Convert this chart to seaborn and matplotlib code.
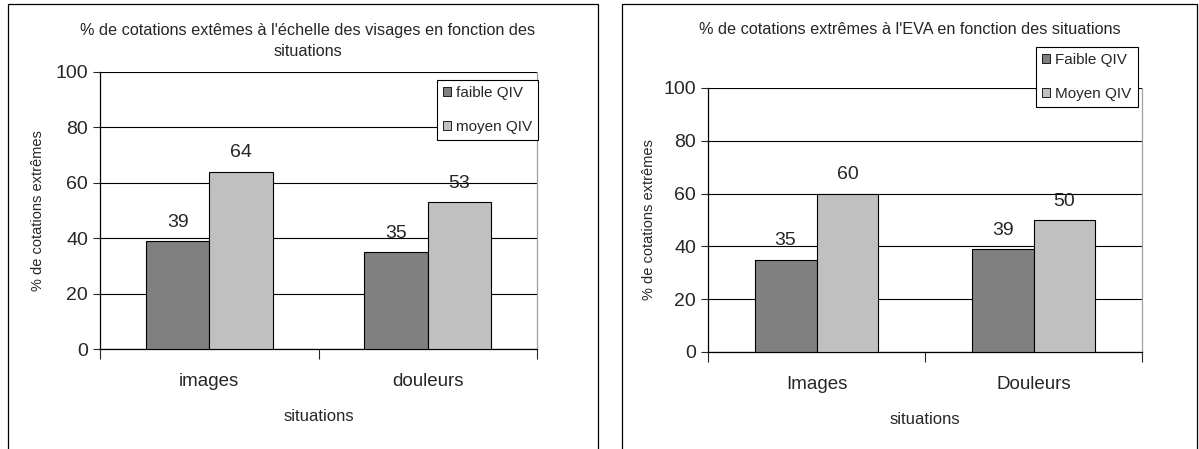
import pandas as pd
import numpy as np
import matplotlib
matplotlib.use("Agg")
import matplotlib.pyplot as plt
import seaborn as sns
from matplotlib.patches import Rectangle

# ----------------------------
# DATA
# ----------------------------
situations_left = ["images", "douleurs"]
groups_left = ["faible QIV", "moyen QIV"]
faible_left = [39, 35]
moyen_left = [64, 53]

situations_right = ["Images", "Douleurs"]
groups_right = ["Faible QIV", "Moyen QIV"]
faible_right = [35, 39]
moyen_right = [60, 50]

title_left = "% de cotations extêmes à l'échelle des visages en fonction des\nsituations"
title_right = "% de cotations extrêmes à l'EVA en fonction des situations"
ylabel = "% de cotations extrêmes"
xlabel = "situations"
yticks = [0, 20, 40, 60, 80, 100]

sns.set_style("white")
plt.rcParams['font.family'] = ['Liberation Sans', 'DejaVu Sans']

palette = ["#808080", "#c0c0c0"]


def make_df(cats, groups, a, b):
    return pd.DataFrame({
        "situation": cats * 2,
        "groupe": [groups[0]] * 2 + [groups[1]] * 2,
        "valeur": a + b,
    })


def draw_panel(ax, df, cats, groups, width, legend_xy):
    sns.barplot(data=df, x="situation", y="valeur", hue="groupe", order=cats,
                hue_order=groups, palette=palette, width=width, edgecolor="black",
                linewidth=0.8, saturation=1, ax=ax, legend=True, zorder=3)
    for cont in ax.containers:
        ax.bar_label(cont, fmt="%d", padding=7.5, fontsize=14)
    ax.set_ylim(0, 100)
    ax.set_xlim(-0.5, 1.5)
    ax.set_yticks(yticks)
    ax.tick_params(axis="y", labelsize=14, length=5, direction="out", width=0.8, left=True)
    ax.yaxis.grid(True, color="black", linewidth=0.8, zorder=0)
    ax.set_axisbelow(True)
    # excel style ticks: marks at category boundaries, labels at centers
    ax.set_xticks([-0.5, 0.5, 1.5])
    ax.set_xticklabels([])
    ax.set_xticks([0, 1], minor=True)
    ax.set_xticklabels(cats, minor=True, fontsize=13.5)
    ax.tick_params(axis="x", which="major", length=7, direction="out", width=0.8, bottom=True)
    ax.tick_params(axis="x", which="minor", length=0, pad=17)
    ax.set_xlabel(xlabel, fontsize=12, labelpad=14)
    ax.set_ylabel(ylabel, fontsize=10.5)
    for s in ["left", "bottom"]:
        ax.spines[s].set_color("black")
        ax.spines[s].set_linewidth(0.9)
    ax.spines["top"].set_visible(False)
    ax.spines["right"].set_color("#a0a0a0")
    ax.spines["right"].set_linewidth(0.9)
    leg = ax.legend(loc="upper left", bbox_to_anchor=legend_xy, fontsize=11,
                    frameon=True, fancybox=False, edgecolor="black", framealpha=1,
                    handlelength=0.5, handleheight=0.5, handletextpad=0.35,
                    borderpad=0.4, labelspacing=1.3, borderaxespad=0)
    leg.get_frame().set_linewidth(0.8)
    for h in leg.legend_handles:
        h.set_edgecolor("black")
        h.set_linewidth(0.6)


fig = plt.figure(figsize=(11.99, 4.49), dpi=100)

ax1 = fig.add_axes([100 / 1199, 1 - 349 / 449, 437 / 1199, 277 / 449])
ax2 = fig.add_axes([708 / 1199, 1 - 352 / 449, 434 / 1199, 264 / 449])

draw_panel(ax1, make_df(situations_left, groups_left, faible_left, moyen_left),
           situations_left, groups_left, 0.58, (0.771, 0.971))
draw_panel(ax2, make_df(situations_right, groups_right, faible_right, moyen_right),
           situations_right, groups_right, 0.57, (0.756, 1.155))

ax1.yaxis.set_label_coords(-0.125, 0.5)
ax2.yaxis.set_label_coords(-0.12, 0.5)

fig.text(308 / 1199, 1 - 41 / 449, title_left, ha="center", va="center",
         fontsize=11.7, linespacing=1.5)
fig.text(910 / 1199, 1 - 30 / 449, title_right, ha="center", va="center", fontsize=11.7)

# panel frames
fig.patches.append(Rectangle((8 / 1199, -0.05), 590 / 1199, 1.05 - 4 / 449,
                             transform=fig.transFigure, fill=False,
                             edgecolor="black", linewidth=0.9))
fig.patches.append(Rectangle((622 / 1199, -0.05), 575 / 1199, 1.05 - 4 / 449,
                             transform=fig.transFigure, fill=False,
                             edgecolor="black", linewidth=0.9))

fig.savefig("out.png", dpi=100)
